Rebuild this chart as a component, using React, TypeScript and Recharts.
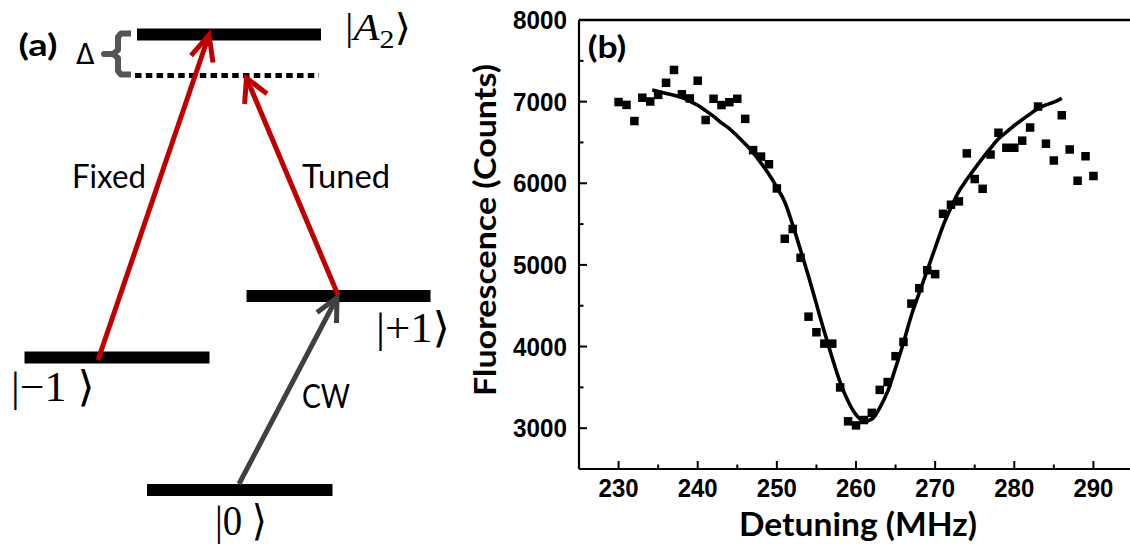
import React from 'react';
import { ComposedChart, Line, Scatter, XAxis, YAxis, ReferenceLine, ReferenceDot } from 'recharts';

// ---------- Panel (b): fluorescence vs detuning ----------
const detuningMHz = [
  230, 231, 232, 233, 234, 235, 236, 237, 238, 239,
  240, 241, 242, 243, 244, 245, 246, 247, 248, 249,
  250, 251, 252, 253, 254, 255, 256, 257, 258, 259,
  260, 261, 262, 263, 264, 265, 266, 267, 268, 269,
  270, 271, 272, 273, 274, 275, 276, 277, 278, 279,
  280, 281, 282, 283, 284, 285, 286, 287, 288, 289, 290,
];
const fluorescenceCounts = [
  6995, 6960, 6762, 7048, 7002, 7083, 7231, 7388, 7090, 7039,
  7256, 6775, 7035, 6958, 6993, 7035, 6789, 6406, 6327, 6233,
  5937, 5320, 5440, 5087, 4366, 4175, 4036, 4036, 3499, 3084,
  3034, 3100, 3188, 3469, 3565, 3882, 4057, 4526, 4715, 4935,
  4887, 5626, 5737, 5778, 6366, 6052, 5932, 6352, 6619, 6435,
  6435, 6522, 6683, 6940, 6485, 6279, 6833, 6414, 6031, 6331, 6089,
];
const fitDetuningMHz = [
  234.25, 235, 236, 237, 238, 239, 240, 241, 242, 243, 244, 245, 246, 247, 248, 249,
  250, 251, 252, 253, 254, 255, 256, 257, 258, 259, 260, 261, 262, 263, 264, 265,
  266, 267, 268, 269, 270, 271, 272, 273, 274, 275, 276, 277, 278, 279, 280, 281,
  282, 283, 284, 285, 286,
];
const fitCounts = [
  7142, 7125, 7100, 7078, 7050, 7005, 6955, 6890, 6820, 6740, 6670, 6580, 6482, 6375, 6247, 6110,
  5950, 5770, 5490, 5180, 4860, 4520, 4180, 3860, 3560, 3330, 3165, 3085, 3110, 3250, 3450, 3739,
  4047, 4383, 4660, 4934, 5207, 5480, 5702, 5900, 6045, 6180, 6308, 6430, 6545, 6626, 6708, 6780,
  6849, 6917, 6960, 6993, 7040,
];
const xTickValues = [230, 235, 240, 245, 250, 255, 260, 265, 270, 275, 280, 285, 290];
const yTickValues = [3000, 3500, 4000, 4500, 5000, 5500, 6000, 6500, 7000, 7500, 8000];

const scatterData = detuningMHz.map((x, i) => ({ x, y: fluorescenceCounts[i] }));
const fitData = fitDetuningMHz.map((x, i) => ({ x, y: fitCounts[i] }));

// ---------- Panel (a): energy-level schematic (diagram units, vertical axis downward) ----------
const levelStart = [137, 246.5, 24.5, 147];
const levelEnd = [321, 430.5, 209.5, 332.5];
const levelEnergy = [34.5, 296, 357.5, 490];
const virtualStart = 135;
const virtualEnd = 319;
const virtualEnergy = 75.5;
const transitionStart = [[98, 360], [338, 295], [239, 484]];
const transitionTip = [[209, 35], [246.5, 78], [337, 297.5]];
const headBarbA = [[191, 55.6], [244.6, 104], [317, 312.5]];
const headBarbB = [[213, 62.5], [267, 93.75], [336.5, 323]];
const braceX = [131, 121, 118, 118, 113, 104, 113, 118, 118, 121, 131];
const braceY = [33.5, 33.5, 37, 50, 54, 54, 54, 58, 71, 74.5, 74.5];

const levelData = levelStart.map((s, i) => [
  { x: s, y: levelEnergy[i] },
  { x: levelEnd[i], y: levelEnergy[i] },
]);
const virtualData = [
  { x: virtualStart, y: virtualEnergy },
  { x: virtualEnd, y: virtualEnergy },
];
const shaftData = transitionStart.map((s, i) => [
  { x: s[0], y: s[1] },
  { x: transitionTip[i][0], y: transitionTip[i][1] },
]);
const headData = transitionTip.map((t, i) => [
  { x: headBarbA[i][0], y: headBarbA[i][1] },
  { x: t[0], y: t[1] },
  { x: headBarbB[i][0], y: headBarbB[i][1] },
]);
const braceData = braceX.map((x, i) => ({ x, y: braceY[i] }));

const RED = '#C00000';
const GRAY = '#404040';
const CAL = "Lato, 'Open Sans', sans-serif";
const MATH = "'Liberation Serif', 'DejaVu Serif', serif";
const ARIAL = "'Liberation Sans', Arial, sans-serif";

const arrowColors = [RED, RED, GRAY];

const XTick = (props: any) => {
  const { x, y, payload } = props;
  const v = payload.value;
  const major = v % 10 === 0;
  return (
    <g>
      <line x1={x} x2={x} y1={y} y2={y - (major ? 8 : 4.5)} stroke="#000" strokeWidth={2} />
      {major && (
        <text x={x} y={y + 28} textAnchor="middle" fontFamily={ARIAL} fontWeight="bold" fontSize={25}
          textLength={40} lengthAdjust="spacingAndGlyphs" fill="#000">{v}</text>
      )}
    </g>
  );
};

const YTick = (props: any) => {
  const { x, y, payload } = props;
  const v = payload.value;
  const major = v % 1000 === 0;
  return (
    <g>
      <line x1={x} x2={x + (major ? 8 : 4.5)} y1={y} y2={y} stroke="#000" strokeWidth={2} />
      {major && (
        <text x={x - 12} y={y + 9} textAnchor="end" fontFamily={ARIAL} fontWeight="bold" fontSize={25}
          textLength={54} lengthAdjust="spacingAndGlyphs" fill="#000">{v}</text>
      )}
    </g>
  );
};

const textAt = (content: React.ReactNode, style: any) => (p: any) => (
  <text x={p.cx} y={p.cy} fill="#000" lengthAdjust="spacingAndGlyphs" {...style}>{content}</text>
);

export default function App() {
  return (
    <div style={{ position: 'absolute', left: 0, top: 0, width: 1130, height: 544, overflow: 'hidden', background: '#fff' }}>
      {/* Panel (a) */}
      <div style={{ position: 'absolute', left: 0, top: 0 }}>
        <ComposedChart width={455} height={544} margin={{ top: 0, right: 0, bottom: 0, left: 0 }}>
          <XAxis type="number" dataKey="x" domain={[0, 455]} hide allowDataOverflow />
          <YAxis type="number" domain={[0, 544]} reversed hide allowDataOverflow />
          {levelData.map((d, i) => (
            <Line key={'lv' + i} data={d} dataKey="y" type="linear" stroke="#000" strokeWidth={12}
              strokeLinecap="butt" dot={false} activeDot={false} isAnimationActive={false} />
          ))}
          <Line data={virtualData} dataKey="y" type="linear" stroke="#000" strokeWidth={5}
            strokeDasharray="6.5 4.3" strokeLinecap="butt" dot={false} activeDot={false} isAnimationActive={false} />
          <Line data={braceData} dataKey="y" type="linear" stroke="#555" strokeWidth={6}
            strokeLinejoin="round" strokeLinecap="butt" dot={false} activeDot={false} isAnimationActive={false} />
          {shaftData.map((d, i) => (
            <Line key={'sh' + i} data={d} dataKey="y" type="linear" stroke={arrowColors[i]} strokeWidth={5}
              strokeLinecap="butt" dot={false} activeDot={false} isAnimationActive={false} />
          ))}
          {headData.map((d, i) => (
            <Line key={'hd' + i} data={d} dataKey="y" type="linear" stroke={arrowColors[i]} strokeWidth={5}
              strokeLinecap="butt" strokeLinejoin="miter" dot={false} activeDot={false} isAnimationActive={false} />
          ))}
          <ReferenceDot x={18.5} y={56} r={0} ifOverflow="visible"
            shape={textAt('(a)', { fontFamily: CAL, fontWeight: 'bold', fontSize: 30, textLength: 39 })} />
          <ReferenceDot x={76} y={64} r={0} ifOverflow="visible"
            shape={textAt('Δ', { fontFamily: "'DejaVu Sans', sans-serif", fontSize: 28, textLength: 18.5 })} />
          <ReferenceDot x={72} y={187.5} r={0} ifOverflow="visible"
            shape={textAt('Fixed', { fontFamily: CAL, fontSize: 32, textLength: 74 })} />
          <ReferenceDot x={302} y={187.5} r={0} ifOverflow="visible"
            shape={textAt('Tuned', { fontFamily: CAL, fontSize: 32, textLength: 88 })} />
          <ReferenceDot x={302} y={408} r={0} ifOverflow="visible"
            shape={textAt('CW', { fontFamily: CAL, fontSize: 32, textLength: 48 })} />
          <ReferenceDot x={345} y={40} r={0} ifOverflow="visible"
            shape={textAt(
              <>
                <tspan>|</tspan>
                <tspan fontStyle="italic">A</tspan>
                <tspan fontSize={26} dy={8}>2</tspan>
                <tspan dy={-8}>⟩</tspan>
              </>,
              { fontFamily: MATH, fontSize: 37, textLength: 66 })} />
          <ReferenceDot x={376} y={342} r={0} ifOverflow="visible"
            shape={textAt('|+1⟩', { fontFamily: MATH, fontSize: 42, textLength: 74 })} />
          <ReferenceDot x={11} y={401} r={0} ifOverflow="visible"
            shape={textAt('|−1 ⟩', { fontFamily: MATH, fontSize: 42, textLength: 83.5 })} />
          <ReferenceDot x={215} y={535} r={0} ifOverflow="visible"
            shape={textAt('|0 ⟩', { fontFamily: MATH, fontSize: 42, textLength: 52 })} />
        </ComposedChart>
      </div>

      {/* Panel (b) */}
      <div style={{ position: 'absolute', left: 455, top: 0 }}>
        <ComposedChart width={695} height={544} margin={{ top: 20, right: 17, bottom: 0, left: 0 }}>
          <XAxis type="number" dataKey="x" domain={[225, 295]} ticks={xTickValues} interval={0}
            allowDataOverflow height={75} tickSize={0} tickMargin={0} tickLine={false}
            axisLine={{ stroke: '#000', strokeWidth: 2.2 }} tick={<XTick />}
            label={{
              content: (props: any) => {
                const vb = props.viewBox || { x: 124, y: 469, width: 554, height: 75 };
                const cx = vb.x + vb.width / 2 + 2;
                return (
                  <text x={cx} y={vb.y + 67} textAnchor="middle" fontFamily={CAL} fontWeight="bold"
                    fontSize={32} textLength={238} lengthAdjust="spacingAndGlyphs" fill="#000">
                    Detuning (MHz)
                  </text>
                );
              },
            }} />
          <YAxis type="number" domain={[2500, 8000]} ticks={yTickValues} interval={0}
            allowDataOverflow width={124} tickSize={0} tickMargin={0} tickLine={false}
            axisLine={{ stroke: '#000', strokeWidth: 2.2 }} tick={<YTick />}
            label={{
              content: (props: any) => {
                const vb = props.viewBox || { x: 0, y: 20, width: 124, height: 449 };
                const cx = vb.x + 41;
                const cy = vb.y + vb.height / 2 - 14.5;
                return (
                  <text x={cx} y={cy} transform={`rotate(-90 ${cx} ${cy})`} textAnchor="middle"
                    fontFamily={CAL} fontWeight="bold" fontSize={31} textLength={332}
                    lengthAdjust="spacingAndGlyphs" fill="#000">
                    Fluorescence (Counts)
                  </text>
                );
              },
            }} />
          <ReferenceLine y={8000} stroke="#000" strokeWidth={2.5} ifOverflow="visible" />
          <Scatter data={scatterData} dataKey="y" isAnimationActive={false}
            shape={(p: any) => <rect x={p.cx - 4.25} y={p.cy - 4.25} width={8.5} height={8.5} fill="#000" />} />
          <Line data={fitData} dataKey="y" type="monotone" stroke="#000" strokeWidth={3.6}
            dot={false} activeDot={false} isAnimationActive={false} />
          <ReferenceDot x={226.1} y={7540} r={0} ifOverflow="visible"
            shape={textAt('(b)', { fontFamily: CAL, fontWeight: 'bold', fontSize: 30, textLength: 38.6 })} />
        </ComposedChart>
      </div>
    </div>
  );
}
